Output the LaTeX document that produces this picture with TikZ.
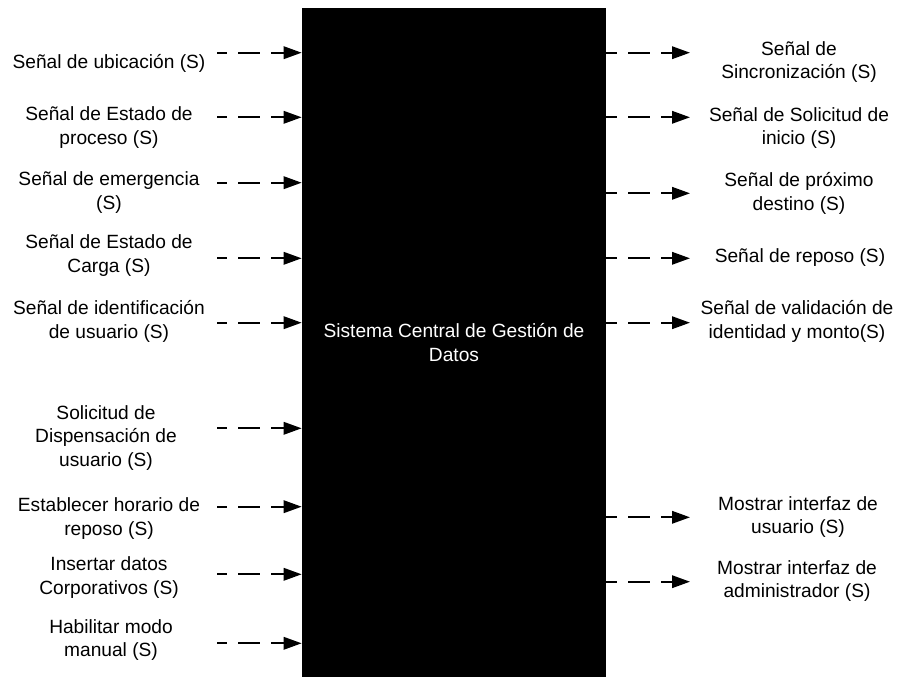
\documentclass[tikz,border=0pt]{standalone}
\usepackage{fontspec}
\setmainfont{Liberation Sans}
\usetikzlibrary{arrows.meta}

\begin{document}
\begin{tikzpicture}[
		caja/.style={fill=black,text=white,align=center,minimum width=6.08cm,minimum height=13.38cm,inner sep=0pt},
		etiqueta/.style={align=center,inner sep=0pt,font=\fontsize{10.9}{13.2}\selectfont},
		senal/.style={line width=1.1pt,dash pattern=on 0.44cm off 0.22cm,-{Triangle[length=0.36cm,width=0.25cm]}}
	]
	\useasboundingbox (0,0) rectangle (18,-13.54);
	\node[caja,font=\fontsize{10.9}{13.2}\selectfont] (sistema) at (9.08,-6.85) {Sistema Central de Gestión de\\Datos};

	% entradas
	\node[etiqueta] (l1) at (2.18,-1.27) {Señal de ubicación (S)};
	\node[etiqueta] (l2) at (2.18,-2.55) {Señal de Estado de\\proceso (S)};
	\node[etiqueta] (l3) at (2.18,-3.85) {Señal de emergencia\\(S)};
	\node[etiqueta] (l4) at (2.18,-5.11) {Señal de Estado de\\Carga (S)};
	\node[etiqueta] (l5) at (2.18,-6.43) {Señal de identificación\\de usuario (S)};
	\node[etiqueta] (l6) at (2.12,-8.76) {Solicitud de\\Dispensación de\\usuario (S)};
	\node[etiqueta] (l7) at (2.18,-10.37) {Establecer horario de\\reposo (S)};
	\node[etiqueta] (l8) at (2.18,-11.55) {Insertar datos\\Corporativos (S)};
	\node[etiqueta] (l9) at (2.22,-12.8) {Habilitar modo\\manual (S)};

	\coordinate (la1) at (4.34,-1.054);
	\coordinate (la2) at (4.34,-2.346);
	\coordinate (la3) at (4.34,-3.654);
	\coordinate (la4) at (4.34,-5.166);
	\coordinate (la5) at (4.34,-6.454);
	\coordinate (la6) at (4.34,-8.566);
	\coordinate (la7) at (4.34,-10.134);
	\coordinate (la8) at (4.34,-11.486);
	\coordinate (la9) at (4.34,-12.866);

	\draw[senal,dash phase=0.24cm] (la1) -- (la1 -| sistema.west);
	\draw[senal,dash phase=0.24cm] (la2) -- (la2 -| sistema.west);
	\draw[senal,dash phase=0.24cm] (la3) -- (la3 -| sistema.west);
	\draw[senal,dash phase=0.24cm] (la4) -- (la4 -| sistema.west);
	\draw[senal,dash phase=0.24cm] (la5) -- (la5 -| sistema.west);
	\draw[senal,dash phase=0.24cm] (la6) -- (la6 -| sistema.west);
	\draw[senal,dash phase=0.24cm] (la7) -- (la7 -| sistema.west);
	\draw[senal,dash phase=0.24cm] (la8) -- (la8 -| sistema.west);
	\draw[senal,dash phase=0.24cm] (la9) -- (la9 -| sistema.west);

	% salidas
	\node[etiqueta] (r1) at (15.98,-1.24) {Señal de\\Sincronización (S)};
	\node[etiqueta] (r2) at (15.98,-2.56) {Señal de Solicitud de\\inicio (S)};
	\node[etiqueta] (r3) at (15.98,-3.87) {Señal de próximo\\destino (S)};
	\node[etiqueta] (r4) at (16.0,-5.16) {Señal de reposo (S)};
	\node[etiqueta] (r5) at (15.94,-6.43) {Señal de validación de\\identidad y monto(S)};
	\node[etiqueta] (r6) at (15.96,-10.34) {Mostrar interfaz de\\usuario (S)};
	\node[etiqueta] (r7) at (15.94,-11.62) {Mostrar interfaz de\\administrador (S)};

	\coordinate (ra1) at (13.8,-1.054);
	\coordinate (ra2) at (13.8,-2.346);
	\coordinate (ra3) at (13.8,-3.866);
	\coordinate (ra4) at (13.8,-5.166);
	\coordinate (ra5) at (13.8,-6.454);
	\coordinate (ra6) at (13.8,-10.346);
	\coordinate (ra7) at (13.8,-11.634);

	\draw[senal,dash phase=0.22cm] (sistema.east |- ra1) -- (ra1);
	\draw[senal,dash phase=0.22cm] (sistema.east |- ra2) -- (ra2);
	\draw[senal,dash phase=0.22cm] (sistema.east |- ra3) -- (ra3);
	\draw[senal,dash phase=0.22cm] (sistema.east |- ra4) -- (ra4);
	\draw[senal,dash phase=0.22cm] (sistema.east |- ra5) -- (ra5);
	\draw[senal,dash phase=0.22cm] (sistema.east |- ra6) -- (ra6);
	\draw[senal,dash phase=0.22cm] (sistema.east |- ra7) -- (ra7);
\end{tikzpicture}
\end{document}
